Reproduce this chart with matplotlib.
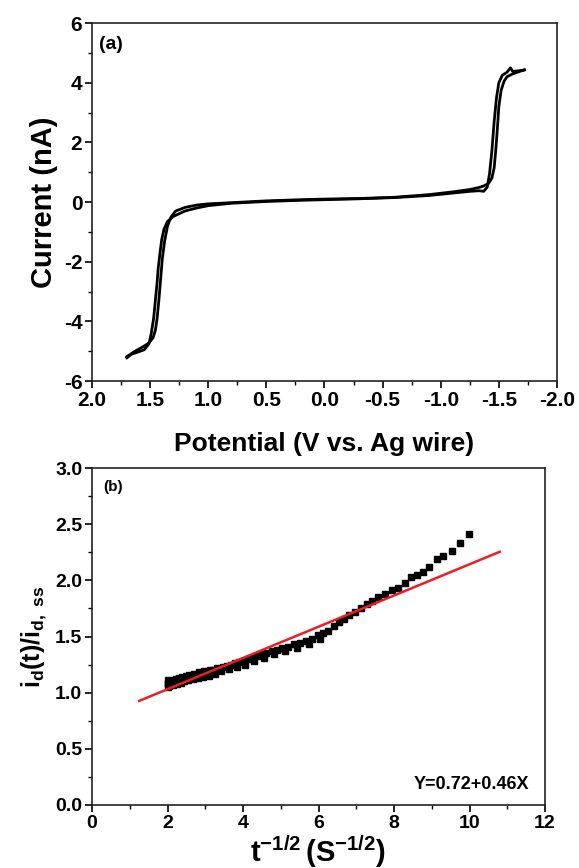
import matplotlib
matplotlib.use("Agg")
import matplotlib.pyplot as plt
from matplotlib.ticker import MultipleLocator, FormatStrFormatter

plt.rcParams['font.family'] = ['Liberation Sans', 'DejaVu Sans']
plt.rcParams['font.weight'] = 'bold'
plt.rcParams['mathtext.fontset'] = 'custom'
plt.rcParams['mathtext.rm'] = 'Liberation Sans:bold'
plt.rcParams['mathtext.it'] = 'Liberation Sans:bold'
plt.rcParams['mathtext.bf'] = 'Liberation Sans:bold'
plt.rcParams['mathtext.default'] = 'bf'
plt.rcParams['axes.unicode_minus'] = False

# ---------------- Panel (a): cyclic voltammogram ----------------
cv_fwd_V = [1.70, 1.66, 1.60, 1.55, 1.51, 1.49, 1.47, 1.455, 1.44, 1.43, 1.415, 1.40,
            1.38, 1.35, 1.30, 1.20, 1.10, 1.00, 0.80, 0.50, 0.20, 0.0, -0.30, -0.60,
            -0.90, -1.10, -1.25, -1.33, -1.37, -1.40, -1.42, -1.44, -1.46, -1.48,
            -1.50, -1.53, -1.57, -1.60, -1.62, -1.67, -1.72]
cv_fwd_I = [-5.22, -5.10, -5.02, -4.95, -4.75, -4.40, -3.90, -3.30, -2.70, -2.20, -1.70, -1.25,
            -0.90, -0.65, -0.48, -0.30, -0.20, -0.12, -0.04, 0.02, 0.06, 0.08, 0.11, 0.15,
            0.22, 0.30, 0.36, 0.38, 0.36, 0.50, 0.95, 1.70, 2.70, 3.50,
            4.00, 4.25, 4.35, 4.50, 4.38, 4.40, 4.43]
cv_rev_V = [-1.72, -1.68, -1.62, -1.57, -1.545, -1.52, -1.50, -1.49, -1.475, -1.46, -1.44,
            -1.41, -1.37, -1.33, -1.25, -1.10, -0.90, -0.60, -0.30, 0.0, 0.20, 0.50, 0.80,
            1.00, 1.10, 1.20, 1.28, 1.32, 1.35, 1.375, 1.395, 1.41, 1.425, 1.44, 1.455,
            1.475, 1.51, 1.56, 1.63, 1.70]
cv_rev_I = [4.43, 4.38, 4.30, 4.20, 4.05, 3.75, 3.20, 2.60, 1.80, 1.15, 0.80,
            0.62, 0.54, 0.49, 0.42, 0.34, 0.25, 0.16, 0.12, 0.10, 0.08, 0.04, -0.02,
            -0.06, -0.10, -0.18, -0.30, -0.50, -0.80, -1.30, -1.90, -2.60, -3.30, -3.90, -4.30,
            -4.55, -4.72, -4.85, -5.00, -5.18]

# ---------------- Panel (b): normalized current vs t^-1/2 ----------------
b_x = [2.00, 2.00, 2.00, 2.02, 2.04, 2.06, 2.08, 2.10, 2.13, 2.16, 2.19, 2.22, 2.26, 2.30,
       2.34, 2.38, 2.43, 2.48, 2.53, 2.58, 2.64, 2.70, 2.76, 2.83, 2.90, 2.97, 3.05,
       3.13, 3.21, 3.30, 3.39, 3.48, 3.58, 3.68, 3.78, 3.89, 4.00, 4.12, 4.24, 4.36,
       4.49, 4.62, 4.76, 4.90, 5.04, 5.19, 5.34, 5.50, 5.66, 5.82, 5.98, 6.12, 6.26,
       6.40, 6.54, 6.68, 6.82, 6.97, 7.12, 7.28, 7.43, 7.58, 7.76, 7.94, 8.11, 8.29,
       8.44, 8.60, 8.76, 8.94, 9.13, 9.31, 9.53, 9.75, 9.99,
       2.05, 2.15, 2.25, 2.35, 2.45, 2.55, 2.67, 2.80, 2.94, 3.09, 3.25, 3.43, 3.63,
       3.84, 4.06, 4.30, 4.55, 4.83, 5.12, 5.42, 5.74, 6.05]
b_y = [1.05, 1.08, 1.11, 1.09, 1.07, 1.10, 1.08, 1.10, 1.09, 1.11, 1.10, 1.12, 1.11, 1.13,
       1.12, 1.14, 1.13, 1.15, 1.14, 1.16, 1.15, 1.17, 1.16, 1.18, 1.17, 1.19, 1.18,
       1.20, 1.20, 1.22, 1.21, 1.23, 1.24, 1.25, 1.26, 1.27, 1.28, 1.30, 1.31, 1.33,
       1.34, 1.35, 1.37, 1.38, 1.40, 1.41, 1.43, 1.44, 1.46, 1.48, 1.51, 1.53, 1.55,
       1.59, 1.63, 1.66, 1.69, 1.72, 1.75, 1.79, 1.82, 1.85, 1.88, 1.91, 1.93, 1.98,
       2.03, 2.05, 2.07, 2.12, 2.19, 2.22, 2.26, 2.33, 2.41,
       1.06, 1.07, 1.08, 1.09, 1.10, 1.11, 1.12, 1.13, 1.14, 1.15, 1.17, 1.19, 1.21,
       1.23, 1.25, 1.28, 1.31, 1.34, 1.37, 1.40, 1.43, 1.48]
fit_x = [1.25, 10.8]
fit_intercept = 0.753
fit_slope = 0.139
fit_label = "Y=0.72+0.46X"

fig = plt.figure(figsize=(5.79, 8.68), dpi=100)

# ---- top axes ----
ax1 = fig.add_axes([0.1589, 0.561, 0.803, 0.4124])
ax1.plot(cv_fwd_V, cv_fwd_I, color='black', lw=2.0, solid_joinstyle='round')
ax1.plot(cv_rev_V, cv_rev_I, color='black', lw=2.0, solid_joinstyle='round')
ax1.set_xlim(2.0, -2.0)
ax1.set_ylim(-6, 6)
ax1.xaxis.set_major_locator(MultipleLocator(0.5))
ax1.xaxis.set_minor_locator(MultipleLocator(0.25))
ax1.xaxis.set_major_formatter(FormatStrFormatter('%.1f'))
ax1.yaxis.set_major_locator(MultipleLocator(2))
ax1.yaxis.set_minor_locator(MultipleLocator(1))
ax1.yaxis.set_major_formatter(FormatStrFormatter('%d'))
ax1.set_xlabel('Potential (V vs. Ag wire)', fontsize=19, fontweight='bold', labelpad=16)
ax1.set_ylabel('Current (nA)', fontsize=21, fontweight='bold', labelpad=4)
ax1.text(0.015, 0.965, '(a)', transform=ax1.transAxes, fontsize=14, fontweight='bold',
         ha='left', va='top')

# ---- bottom axes ----
ax2 = fig.add_axes([0.1589, 0.0726, 0.7824, 0.3882])
ax2.plot(b_x, b_y, linestyle='none', marker='s', markersize=5, color='black')
fx = fit_x
fy = [fit_intercept + fit_slope * v for v in fx]
ax2.plot(fx, fy, color='#ee1c24', lw=1.8)
ax2.set_xlim(0, 12)
ax2.set_ylim(0, 3.0)
ax2.xaxis.set_major_locator(MultipleLocator(2))
ax2.xaxis.set_minor_locator(MultipleLocator(1))
ax2.yaxis.set_major_locator(MultipleLocator(0.5))
ax2.yaxis.set_minor_locator(MultipleLocator(0.25))
ax2.yaxis.set_major_formatter(FormatStrFormatter('%.1f'))
ax2.set_xlabel(r'$t^{-1/2}\,(S^{-1/2})$', fontsize=21, labelpad=1)
ax2.set_ylabel(r'$i_d(t)/i_{d,\ ss}$', fontsize=18, labelpad=4)
ax2.text(0.025, 0.965, '(b)', transform=ax2.transAxes, fontsize=11, fontweight='bold',
         ha='left', va='top')
ax2.text(0.965, 0.035, fit_label, transform=ax2.transAxes, fontsize=13, fontweight='bold',
         ha='right', va='bottom')

for ax, fs in ((ax1, 15), (ax2, 14)):
    for s in ax.spines.values():
        s.set_linewidth(1.2)
        s.set_color('#222222')
    ax.tick_params(which='major', direction='out', length=5, width=1.2, labelsize=fs,
                   top=False, right=False, pad=2)
    ax.tick_params(which='minor', direction='out', length=3, width=1.0,
                   top=False, right=False)
    for lab in ax.get_xticklabels() + ax.get_yticklabels():
        lab.set_fontweight('bold')

fig.savefig('out.png', dpi=100)
